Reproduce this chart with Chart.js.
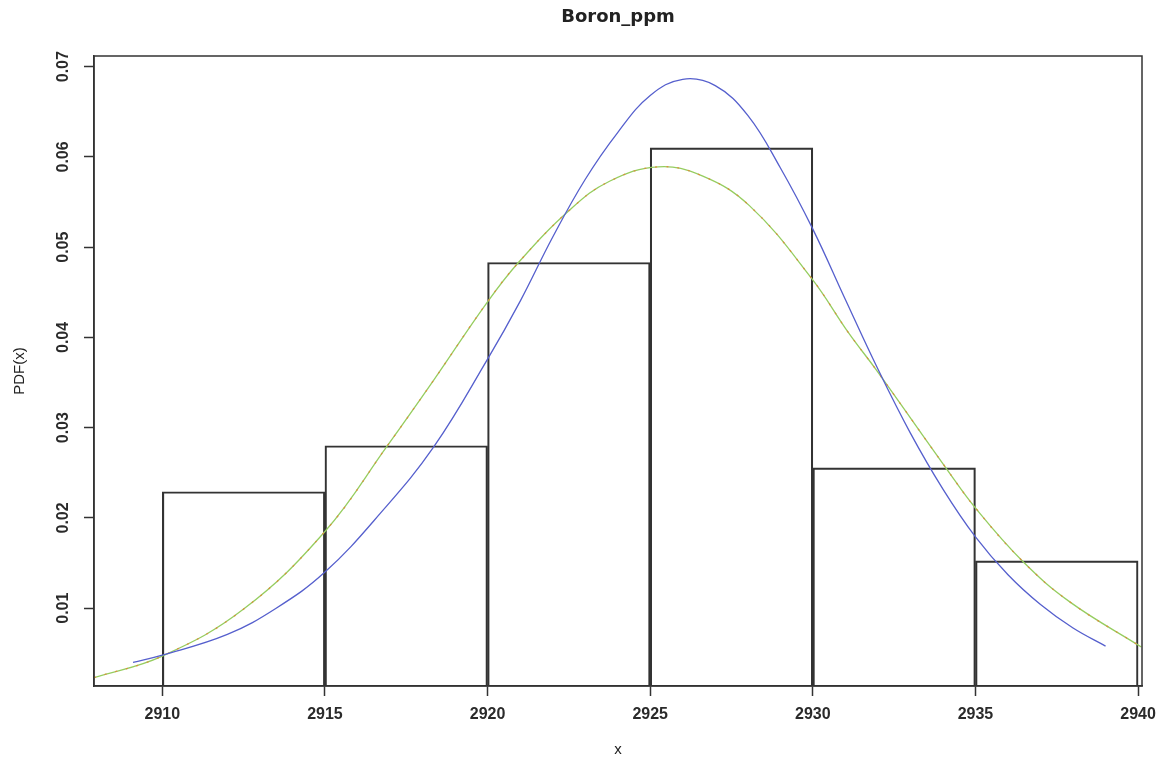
<!DOCTYPE html>
<html>
<head>
<meta charset="utf-8">
<title>Boron_ppm</title>
<script src="https://cdn.jsdelivr.net/npm/chart.js@4.4.1/dist/chart.umd.min.js"></script>
<style>
  body { margin: 0; background: #fff; }
  canvas { display: block; }
</style>
</head>
<body>
<canvas id="myChart" width="1162" height="759"></canvas>
<script>
// histogram bins (left edges, width 5) and density heights
const binStarts = [2910, 2915, 2920, 2925, 2930, 2935];
const binWidth = 5;
const binDensity = [0.0229, 0.0280, 0.0483, 0.0610, 0.02555, 0.01525];

// blue fitted curve
const blueX = [2909.1, 2910, 2912, 2913.5, 2915, 2916.7, 2918.35, 2920, 2921, 2922, 2923, 2924, 2925, 2926,
    2927, 2928, 2929, 2930, 2931, 2932, 2933, 2934, 2935, 2936, 2937, 2938, 2939];
const blueY = [0.0040, 0.0048, 0.0071, 0.0100, 0.0140, 0.0205, 0.0279, 0.0376, 0.0440, 0.0511, 0.0575, 0.0627,
    0.0668, 0.0686, 0.0679, 0.0646, 0.0588, 0.0520, 0.0442, 0.0365, 0.0294, 0.0232, 0.0179, 0.0137, 0.0104,
    0.0078, 0.0058];

// green / orange fitted curve
const greenX = [2907.9, 2910, 2912.5, 2915, 2916.9, 2918.35, 2919.95, 2920.95, 2922.55, 2923.75, 2925.25,
    2926.6, 2928.05, 2929.95, 2931.1, 2931.95, 2934.1, 2935, 2936.45, 2937.9, 2940.1];
const greenY = [0.0023, 0.0047, 0.0099, 0.0185, 0.0279, 0.0353, 0.0437, 0.0483, 0.0542, 0.0573, 0.0589,
    0.0579, 0.0546, 0.0466, 0.0405, 0.0364, 0.0255, 0.0211, 0.0152, 0.0107, 0.0057];

const xTicks = [2910, 2915, 2920, 2925, 2930, 2935, 2940];
const yTicks = [0.01, 0.02, 0.03, 0.04, 0.05, 0.06, 0.07];

const ink = '#333';
Chart.defaults.font.family = "'Liberation Sans', Arial, sans-serif";
Chart.defaults.color = '#2a2a2a';

const toPoints = (xs, ys) => xs.map((x, i) => ({ x: x, y: ys[i] }));

// R-style frame round the plot area
const boxPlugin = {
    id: 'box',
    afterDraw(chart) {
        const a = chart.chartArea;
        const c = chart.ctx;
        c.save();
        c.strokeStyle = ink;
        c.lineWidth = 1.5;
        c.strokeRect(a.left, a.top, a.right - a.left, a.bottom - a.top);
        c.restore();
    }
};

const ctx = document.getElementById('myChart').getContext('2d');
const myChart = new Chart(ctx, {
    type: 'bar',
    data: {
        datasets: [{
            type: 'line',
            label: 'fit 2',
            data: toPoints(greenX, greenY),
            borderColor: 'rgba(222, 140, 60, 0.9)',
            borderWidth: 1.3,
            borderDash: [2, 9],
            pointRadius: 0,
            tension: 0.4,
            order: 1
        }, {
            type: 'line',
            label: 'fit 2 base',
            data: toPoints(greenX, greenY),
            borderColor: 'rgba(150, 205, 95, 1)',
            borderWidth: 1.3,
            pointRadius: 0,
            tension: 0.4,
            order: 2
        }, {
            type: 'line',
            label: 'fit 1',
            data: toPoints(blueX, blueY),
            borderColor: 'rgba(85, 95, 205, 1)',
            borderWidth: 1.3,
            pointRadius: 0,
            tension: 0.4,
            order: 0
        }, {
            type: 'bar',
            label: 'Boron_ppm',
            data: binStarts.map((s, i) => ({ x: s + binWidth / 2, y: binDensity[i] })),
            backgroundColor: 'rgba(0, 0, 0, 0)',
            borderColor: ink,
            borderWidth: 1.5,
            borderSkipped: false,
            barPercentage: 1,
            categoryPercentage: 1,
            order: 3
        }]
    },
    options: {
        responsive: false,
        animation: false,
        devicePixelRatio: 1,
        layout: { padding: { left: 0, right: 20, top: 0, bottom: 0 } },
        plugins: {
            legend: { display: false },
            tooltip: { enabled: false },
            title: {
                display: true,
                text: 'Boron_ppm',
                fullSize: false,
                color: '#222',
                font: { family: "'DejaVu Sans', sans-serif", size: 18, weight: 'bold' },
                padding: { top: 7, bottom: 27.4 }
            }
        },
        scales: {
            x: {
                type: 'linear',
                offset: false,
                min: 2907.9,
                max: 2940.12,
                afterBuildTicks: (s) => { s.ticks = xTicks.map(v => ({ value: v })); },
                afterFit: (s) => { s.height = 73; s.paddingLeft = 0; s.paddingRight = 0; },
                grid: { offset: false, drawOnChartArea: false, tickLength: 10, tickColor: ink, tickWidth: 1.5 },
                border: { display: true, color: ink, width: 1.5 },
                ticks: {
                    padding: 9,
                    color: '#2a2a2a',
                    font: { size: 16, weight: 'bold' },
                    maxRotation: 0,
                    callback: (v) => String(v)
                },
                title: {
                    display: true,
                    text: 'x',
                    color: '#222',
                    font: { size: 15 },
                    padding: { top: 0, bottom: 0 }
                }
            },
            y: {
                type: 'linear',
                min: 0.00138,
                max: 0.07118,
                afterBuildTicks: (s) => { s.ticks = yTicks.map(v => ({ value: v })); },
                afterFit: (s) => { s.width = 94; s.paddingTop = 0; s.paddingBottom = 0; },
                grid: { drawOnChartArea: false, tickLength: 10, tickColor: ink, tickWidth: 1.5 },
                border: { display: true, color: ink, width: 1.5 },
                ticks: {
                    padding: 4.5,
                    crossAlign: 'center',
                    minRotation: 90,
                    maxRotation: 90,
                    color: '#2a2a2a',
                    font: { size: 16, weight: 'bold' },
                    callback: (v) => v.toFixed(2)
                },
                title: {
                    display: true,
                    text: 'PDF(x)',
                    color: '#222',
                    font: { size: 15 },
                    padding: { top: 11, bottom: 0 }
                }
            }
        }
    },
    plugins: [boxPlugin]
});
</script>
</body>
</html>
